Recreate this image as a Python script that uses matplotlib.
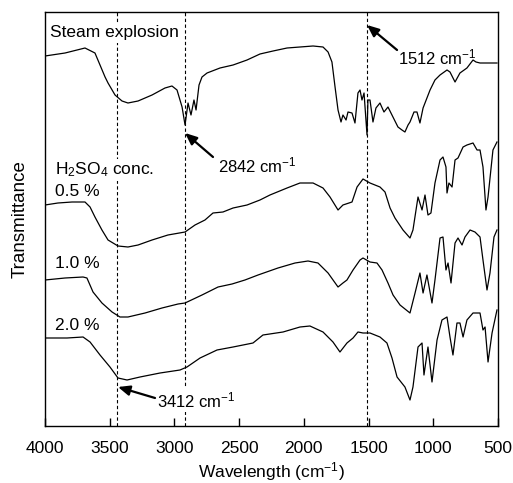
import matplotlib
matplotlib.use("Agg")
import matplotlib.pyplot as plt

plt.rcParams['font.family'] = ['Liberation Sans', 'DejaVu Sans']
plt.rcParams['mathtext.fontset'] = 'custom'
plt.rcParams['mathtext.rm'] = 'Liberation Sans'
plt.rcParams['mathtext.it'] = 'Liberation Sans'

# ---- data (wavenumber cm-1, transmittance arbitrary offset units) ----
se_wn = [4000, 3845, 3691, 3614, 3575, 3536, 3513, 3459, 3405, 3359, 3281, 3173, 3073, 3019,
         2980, 2941, 2918, 2895, 2872, 2849, 2833, 2810, 2787, 2748, 2648, 2547, 2439, 2339,
         2238, 2130, 2030, 1929, 1852, 1813, 1783, 1759, 1736, 1713, 1698, 1674, 1659, 1628,
         1605, 1582, 1566, 1551, 1535, 1512, 1505, 1489, 1466, 1443, 1412, 1381, 1350, 1327,
         1273, 1242, 1219, 1195, 1180, 1149, 1126, 1103, 1079, 1064, 1025, 987, 948, 894,
         871, 832, 794, 740, 693, 670, 639, 585, 508]
se_t = [370, 373, 378, 373, 361, 349, 343, 331, 325, 323, 325, 331, 338, 340,
        336, 319, 301, 323, 311, 326, 316, 341, 349, 353, 358, 361, 366, 372,
        375, 378, 379, 380, 379, 374, 364, 339, 316, 304, 311, 306, 314, 313,
        303, 333, 336, 326, 333, 291, 326, 326, 304, 318, 323, 314, 319, 313,
        299, 296, 294, 301, 304, 314, 314, 303, 318, 323, 336, 346, 351, 356,
        354, 344, 353, 358, 366, 364, 363, 363, 363]

c05_wn = [4000, 3900, 3791, 3691, 3652, 3614, 3560, 3513, 3436, 3359, 3281, 3173, 3050, 2918,
          2841, 2764, 2702, 2625, 2547, 2439, 2339, 2262, 2130, 2030, 1929, 1852, 1798, 1736,
          1698, 1628, 1589, 1543, 1489, 1412, 1373, 1334, 1296, 1234, 1180, 1157, 1118, 1087,
          1064, 1041, 1018, 987, 948, 925, 902, 894, 879, 855, 832, 809, 770, 740, 693, 662,
          639, 616, 593, 577, 539, 508]
c05_t = [221, 223, 224, 224, 219, 209, 196, 186, 180, 179, 181, 186, 191, 194,
         201, 206, 213, 214, 218, 221, 226, 231, 238, 243, 243, 238, 229, 216,
         221, 224, 239, 247, 243, 239, 234, 218, 208, 196, 188, 196, 229, 216,
         231, 211, 213, 243, 266, 269, 259, 233, 243, 239, 266, 268, 279, 281, 283, 276,
         276, 259, 216, 229, 276, 284]

c10_wn = [4000, 3845, 3706, 3676, 3629, 3560, 3482, 3421, 3359, 3227, 3096, 2972, 2918, 2787,
          2663, 2555, 2455, 2354, 2200, 2068, 1968, 1891, 1813, 1736, 1698, 1667, 1620, 1566,
          1543, 1489, 1435, 1396, 1350, 1311, 1257, 1180, 1141, 1103, 1079, 1049, 1010, 987,
          948, 925, 902, 886, 863, 832, 809, 778, 755, 716, 678, 639, 616, 585, 562, 531, 508]
c10_t = [146, 148, 149, 148, 134, 123, 114, 109, 109, 113, 118, 122, 123, 131,
         139, 142, 146, 151, 158, 163, 165, 163, 153, 139, 143, 146, 156, 166,
         168, 164, 163, 156, 143, 131, 121, 113, 133, 153, 133, 151, 123, 146,
         188, 189, 156, 163, 143, 183, 188, 181, 189, 196, 194, 189, 166, 136, 153, 189, 196]

c20_wn = [4000, 3830, 3706, 3652, 3575, 3498, 3436, 3366, 3266, 3111, 2957, 2903, 2802, 2671,
          2547, 2393, 2316, 2161, 2030, 1953, 1852, 1775, 1721, 1667, 1620, 1582, 1543, 1489,
          1412, 1358, 1319, 1280, 1219, 1180, 1157, 1118, 1087, 1072, 1041, 1010, 971, 933,
          894, 871, 848, 817, 794, 770, 740, 693, 639, 616, 600, 577, 546, 508]
c20_t = [88, 88, 89, 84, 71, 59, 48, 46, 49, 53, 56, 59, 68, 76,
         79, 83, 91, 94, 99, 100, 94, 84, 74, 83, 88, 94, 93, 93,
         89, 83, 68, 49, 39, 26, 39, 79, 83, 51, 79, 44, 86, 106,
         109, 89, 71, 103, 103, 89, 106, 113, 113, 96, 99, 64, 93, 116]

marker_wn = [3440, 2918, 1512]
xticks = [4000, 3500, 3000, 2500, 2000, 1500, 1000, 500]

fig = plt.figure(figsize=(5.13, 4.83), dpi=100)
ax = fig.add_axes([45/513, 57/483, 453/513, 414/483])

for wn in marker_wn:
    ax.axvline(wn, color='black', lw=0.8, ls=(0, (3, 2.2)), zorder=1)

for wn, t in [(se_wn, se_t), (c05_wn, c05_t), (c10_wn, c10_t), (c20_wn, c20_t)]:
    ax.plot(wn, t, color='black', lw=0.9, zorder=3)

ax.set_xlim(4000, 500)
ax.set_ylim(0, 414)
ax.set_xticks(xticks)
ax.set_xticklabels([str(v) for v in xticks], fontsize=12.5)
ax.set_yticks([])
ax.tick_params(axis='x', direction='in', length=6, width=1, pad=11)
for s in ax.spines.values():
    s.set_linewidth(1.0)

ax.set_xlabel('Wavelength (cm$^{-1}$)', fontsize=12.5, labelpad=3)
ax.set_ylabel('Transmittance', fontsize=13.5, labelpad=12)

fs = 12.5
wb = dict(facecolor='white', edgecolor='none', pad=1.5)
ax.text(3961, 393, 'Steam explosion', fontsize=fs, ha='left', va='center', bbox=wb, zorder=4)
ax.text(3923, 256, 'H$_2$SO$_4$ conc.', fontsize=fs, ha='left', va='center', bbox=wb, zorder=4)
ax.text(3923, 235, '0.5 %', fontsize=fs, ha='left', va='center', zorder=4)
ax.text(3923, 163, '1.0 %', fontsize=fs, ha='left', va='center', zorder=4)
ax.text(3923, 101, '2.0 %', fontsize=fs, ha='left', va='center', zorder=4)

fs2 = 12
ap = dict(arrowstyle='-|>,head_length=0.7,head_width=0.3', lw=1.6, color='black',
          shrinkA=0, shrinkB=0)
ax.annotate('', xy=(1512, 401), xytext=(1280, 376), arrowprops=ap, zorder=5)
ax.text(1273, 369, '1512 cm$^{-1}$', fontsize=fs2, ha='left', va='center', zorder=4)
ax.annotate('', xy=(2918, 293), xytext=(2702, 269), arrowprops=ap, zorder=5)
ax.text(2663, 261, '2842 cm$^{-1}$', fontsize=fs2, ha='left', va='center', zorder=4)
ax.annotate('', xy=(3436, 39), xytext=(3150, 28), arrowprops=ap, zorder=5)
ax.text(3135, 26, '3412 cm$^{-1}$', fontsize=fs2, ha='left', va='center', bbox=wb, zorder=4)

fig.savefig('out.png', dpi=100)
